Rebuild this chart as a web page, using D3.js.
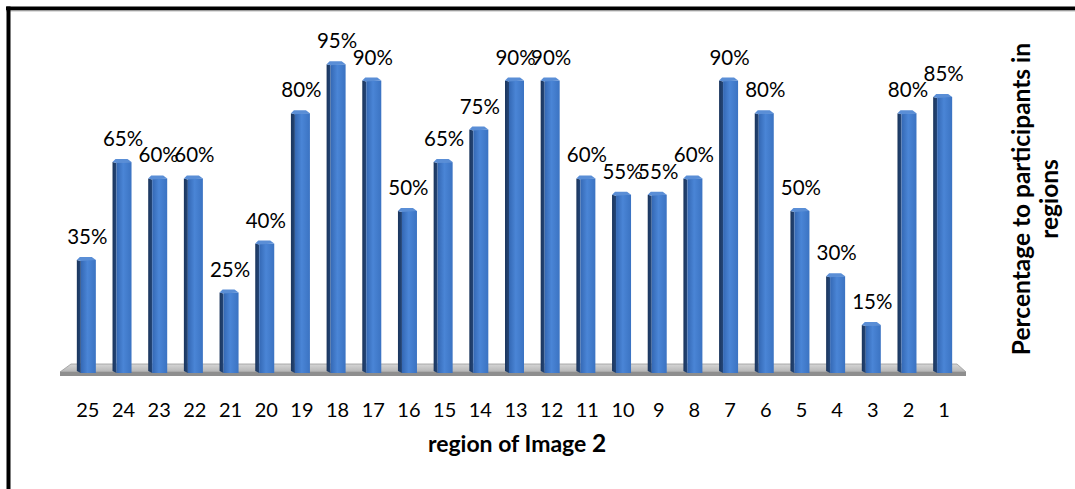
<!DOCTYPE html>
<html>
<head>
<meta charset="utf-8">
<script src="https://cdn.jsdelivr.net/npm/d3@7"></script>
<style>
  html, body { margin: 0; padding: 0; background: #fff; }
  svg { display: block; }
  text { font-family: Lato, "Noto Sans", sans-serif; fill: #000; }
</style>
</head>
<body>
<svg id="chart" width="1075" height="489"></svg>
<script>
// Regions as ordered along the axis (right to left numbering)
const regions = ["25","24","23","22","21","20","19","18","17","16","15","14","13",
                 "12","11","10","9","8","7","6","5","4","3","2","1"];
// Percentage of participants in each region
const percentages = [35,65,60,60,25,40,80,95,90,50,65,75,90,90,60,55,55,60,90,80,50,30,15,80,85];
const xTitle = "region of Image ";
const xTitleNum = "2";
const yTitleLines = ["Percentage to participants in", "regions"];

const svg = d3.select("#chart");
const W = 1075, H = 489;

// Frame
svg.append("line").attr("x1", 6).attr("x2", W).attr("y1", 8.5).attr("y2", 8.5)
  .attr("stroke", "#000").attr("stroke-width", 4);
svg.append("line").attr("x1", 6).attr("x2", W).attr("y1", 11).attr("y2", 11)
  .attr("stroke", "#bbb").attr("stroke-width", 1);
svg.append("line").attr("x1", 8.5).attr("x2", 8.5).attr("y1", 6.5).attr("y2", H)
  .attr("stroke", "#000").attr("stroke-width", 4);

const x = d3.scaleBand().domain(regions).range([69, 961]).padding(0);
const y = d3.scaleLinear().domain([0, 100]).range([371, 45]);

const defs = svg.append("defs");
const gFront = defs.append("linearGradient").attr("id", "front").attr("x1", 0).attr("x2", 1).attr("y1", 0).attr("y2", 0);
gFront.append("stop").attr("offset", 0).attr("stop-color", "#3468b4");
gFront.append("stop").attr("offset", 0.45).attr("stop-color", "#4a85d6");
gFront.append("stop").attr("offset", 1).attr("stop-color", "#3b73c2");
const gSide = defs.append("linearGradient").attr("id", "side").attr("x1", 0).attr("x2", 1).attr("y1", 0).attr("y2", 0);
gSide.append("stop").attr("offset", 0).attr("stop-color", "#1b355c");
gSide.append("stop").attr("offset", 1).attr("stop-color", "#24477a");
const gFloor = defs.append("linearGradient").attr("id", "floor").attr("x1", 0).attr("x2", 0).attr("y1", 0).attr("y2", 1);
gFloor.append("stop").attr("offset", 0).attr("stop-color", "#d6d6d6");
gFloor.append("stop").attr("offset", 1).attr("stop-color", "#b4b4b4");

// Floor slab
const floorL = x.range()[0], floorR = x.range()[1];
svg.append("polygon")
  .attr("points", [[floorL + 2, 364], [floorR - 4, 364], [floorR + 5, 372], [floorL - 9, 372]].join(" "))
  .attr("fill", "url(#floor)").attr("stroke", "#9a9a9a").attr("stroke-width", 0.8);
svg.append("polygon")
  .attr("points", [[floorL - 9, 372], [floorR + 5, 372], [floorR + 5, 376], [floorL - 9, 376]].join(" "))
  .attr("fill", "#8e8e8e");

// Bars: dark side face on the left, front face, light top cap
const sideW = 4, frontW = 15, base = y(0) + 1;
const bars = svg.append("g").selectAll("g").data(regions).join("g");
bars.each(function(r, i) {
  const g = d3.select(this);
  const xs = x(r) + x.bandwidth() / 2 - 10;
  const xf = xs + sideW;
  const top = y(percentages[i]);
  g.append("polygon")
    .attr("points", [[xs, top + 3], [xf, top + 4], [xf, base + 1], [xs, base - 1]].join(" "))
    .attr("fill", "url(#side)");
  g.append("rect").attr("x", xf).attr("y", top + 3).attr("width", frontW).attr("height", base + 1 - (top + 3))
    .attr("fill", "url(#front)");
  g.append("polygon")
    .attr("points", [[xs, top + 3], [xs + 3, top], [xf + frontW - 4, top], [xf + frontW, top + 3], [xf, top + 4]].join(" "))
    .attr("fill", "#5a8ed6");
});

// Value labels
svg.append("g").selectAll("text").data(regions).join("text")
  .attr("x", r => x(r) + x.bandwidth() / 2 + 0.5)
  .attr("y", (r, i) => y(percentages[i]) - 13)
  .attr("text-anchor", "middle")
  .attr("font-size", 20.5)
  .text((r, i) => percentages[i] + "%");

// Category labels
svg.append("g").selectAll("text").data(regions).join("text")
  .attr("x", r => x(r) + x.bandwidth() / 2 + 1)
  .attr("y", 417)
  .attr("text-anchor", "middle")
  .attr("font-size", 20)
  .text(r => r);

// Axis titles
const xt = svg.append("text").attr("x", 517).attr("y", 452).attr("text-anchor", "middle")
  .attr("font-size", 23).attr("font-weight", "bold");
xt.append("tspan").text(xTitle);
xt.append("tspan").attr("font-size", 24.5).text(xTitleNum);

const yt = svg.append("text").attr("transform", "translate(1030,199) rotate(-90)")
  .attr("text-anchor", "middle").attr("font-size", 24.5).attr("font-weight", "bold");
yTitleLines.forEach((t, k) => yt.append("tspan").attr("x", 0).attr("dy", k === 0 ? 0 : 28).text(t));
</script>
</body>
</html>
